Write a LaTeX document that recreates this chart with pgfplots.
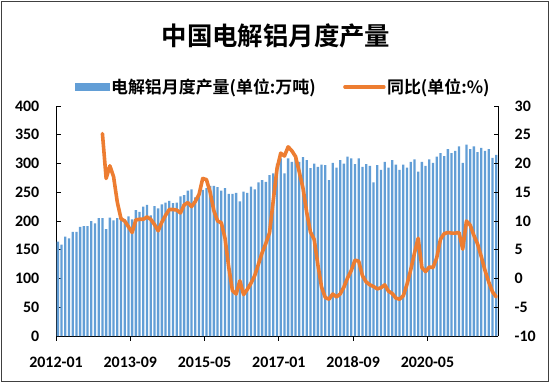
\documentclass[border=0pt]{standalone}
\usepackage{pgfplots}
\pgfplotsset{compat=1.18}
\usepackage{pgfplotstable}
\usepackage{fontspec}
\setmainfont{Carlito}
\newfontfamily\cjk{Noto Sans CJK SC}[BoldFont={Noto Sans CJK SC Bold}]
\definecolor{barblue}{RGB}{98,158,214}
\definecolor{lineorange}{RGB}{237,125,49}
\newcommand\tickfont{\bfseries\fontsize{16}{16}\selectfont}

\pgfplotstableread{
x y
0 164
1 159
2 173
3 170
4 181
5 181
6 190
7 191
8 191
9 200
10 196
11 205
12 205
13 186
14 206
15 201
16 205
17 206
18 203
19 208
20 203
21 219
22 216
23 225
24 228
25 210
26 226
27 222
28 229
29 232
30 235
31 231
32 232
33 243
34 245
35 253
36 255
37 241
38 248
39 254
40 257
41 261
42 261
43 259
44 253
45 257
46 247
47 247
48 249
49 234
50 251
51 249
52 260
53 255
54 267
55 271
56 268
57 280
58 283
59 300
60 309
61 283
62 309
63 303
64 311
65 303
66 311
67 306
68 292
69 300
70 294
71 298
72 297
73 271
74 301
75 293
76 306
77 300
78 312
79 309
80 299
81 309
82 294
83 299
84 296
85 267
86 297
87 289
88 303
89 293
90 306
91 298
92 289
93 298
94 293
95 303
96 307
97 286
98 303
99 296
100 307
101 301
102 312
103 318
104 313
105 325
106 318
107 322
108 330
109 301
110 333
111 325
112 330
113 320
114 327
115 322
116 325
117 310
118 315
}\bardata

\pgfplotstableread{
x y
12 25.2
13 17.4
14 19.6
15 17.7
16 13.3
17 10.4
18 10.0
19 9.0
20 8.0
21 10.2
22 10.3
23 10.3
24 10.7
25 10.3
26 9.4
27 8.3
28 9.8
29 11.0
30 12.0
31 12.0
32 11.9
33 11.4
34 12.8
35 13.2
36 12.5
37 13.4
38 14.6
39 17.4
40 17.2
41 15.0
42 11.8
43 10.0
44 9.7
45 7.0
46 2.0
47 -2.1
48 -2.7
49 -0.4
50 -2.8
51 -1.9
52 -0.8
53 0.5
54 2.5
55 4.5
56 6.1
57 8.0
58 13.6
59 19.1
60 21.8
61 21.3
62 22.9
63 22.2
64 21.2
65 18.5
66 15.7
67 11.5
68 8.1
69 6.8
70 2.4
71 -1.5
72 -3.3
73 -3.6
74 -2.7
75 -3.2
76 -2.7
77 -1.5
78 0.1
79 1.4
80 3.2
81 3.0
82 0.5
83 -0.6
84 -1.1
85 -1.4
86 -1.8
87 -1.6
88 -1.1
89 -2.2
90 -2.6
91 -3.4
92 -3.6
93 -3.0
94 -1.0
95 1.5
96 4.4
97 7.0
98 1.9
99 1.2
100 2.0
101 1.9
102 3.6
103 6.8
104 7.8
105 8.0
106 7.9
107 7.9
108 8.0
109 5.1
110 10.0
111 9.3
112 7.5
113 6.0
114 3.8
115 1.4
116 -0.6
117 -2.3
118 -3.2
}\linedata

\begin{document}
\begin{tikzpicture}[x=1bp,y=1bp]
\path[use as bounding box] (0,0) rectangle (550,383);
\draw[black!75, line width=1.3bp] (1.5,1.5) rectangle (548.5,381.5);
\node[font=\cjk\bfseries\fontsize{25.5}{25.5}\selectfont, anchor=center] at (276,347.5) {中国电解铝月度产量};

\begin{axis}[
  at={(56bp,47bp)}, anchor=south west,
  scale only axis, width=442bp, height=230bp,
  xmin=-0.5, xmax=118.5, ymin=0, ymax=400,
  axis x line*=bottom, axis y line*=left,
  axis line style={black, line width=1bp},
  xtick={-0.5,19.5,39.5,59.5,79.5,99.5},
  xticklabels={2012-01,2013-09,2015-05,2017-01,2018-09,2020-05},
  ytick={0,50,...,400},
  yticklabels={0,50,100,150,200,250,300,350,400},
  tick align=inside, major tick length=4.5bp,
  tick style={black, line width=0.8bp},
  xticklabel style={font=\tickfont, inner sep=0pt, anchor=north, yshift=-16bp},
  yticklabel style={font=\tickfont, inner sep=0pt, anchor=east, xshift=-16.5bp},
  ybar, bar width=0.62,
]
\addplot[fill=barblue, draw=none] table[x=x,y=y] {\bardata};
\end{axis}

\begin{axis}[
  at={(56bp,47bp)}, anchor=south west,
  scale only axis, width=442bp, height=230bp,
  xmin=-0.5, xmax=118.5, ymin=-10, ymax=30,
  axis x line=none, axis y line*=right,
  axis line style={black, line width=1bp},
  ytick={-10,-5,...,30},
  yticklabels={-10,-5,0,5,10,15,20,25,30},
  tick align=inside, major tick length=4.5bp,
  tick style={black, line width=0.8bp},
  yticklabel style={font=\tickfont, inner sep=0pt, anchor=west, xshift=16.5bp},
  legend columns=2,
  legend cell align=left,
  legend style={at={(0.043,1.0826)}, anchor=west, draw=none, fill=none,
    inner sep=0pt, font=\cjk\bfseries\fontsize{17}{17}\selectfont,
    /tikz/every even column/.append style={column sep=26bp},
    nodes={inner sep=1.5bp}},
]
\addlegendimage{legend image code/.code={\fill[barblue] (0bp,-3.5bp) rectangle (34bp,3.5bp);}}
\addlegendentry{电解铝月度产量(单位:万吨)}
\addplot[lineorange, line width=3.6bp, line join=round, line cap=round,
  legend image code/.code={\draw[lineorange, line width=3.4bp] (0bp,0bp) -- (39bp,0bp);}]
  table[x=x,y=y] {\linedata};
\addlegendentry{同比(单位:\%)}
\end{axis}
\end{tikzpicture}
\end{document}
